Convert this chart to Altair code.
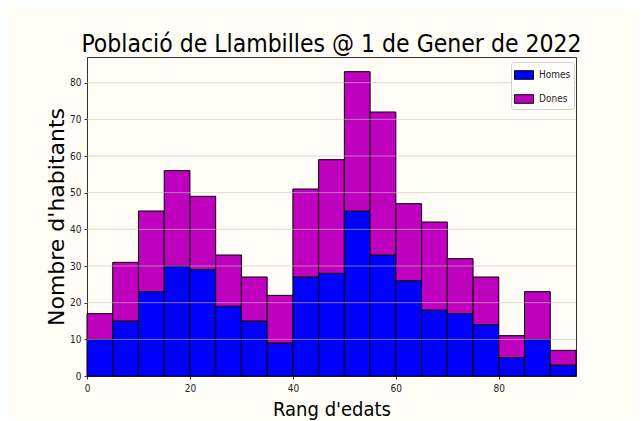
import altair as alt
import pandas as pd

# Age bins (start, end) and counts
bin_start = [0, 5, 10, 15, 20, 25, 30, 35, 40, 45, 50, 55, 60, 65, 70, 75, 80, 85, 90]
bin_end = [5, 10, 15, 20, 25, 30, 35, 40, 45, 50, 55, 60, 65, 70, 75, 80, 85, 90, 95]
homes = [10, 15, 23, 30, 29, 19, 15, 9, 27, 28, 45, 33, 26, 18, 17, 14, 5, 10, 3]
dones = [7, 16, 22, 26, 20, 14, 12, 13, 24, 31, 38, 39, 21, 24, 15, 13, 6, 13, 4]
series = ["Homes", "Dones"]
colors = ["#0000ff", "#bf00bf"]
x_ticks = [0, 20, 40, 60, 80]
y_ticks = [0, 10, 20, 30, 40, 50, 60, 70, 80]
grid_vals = [10, 20, 30, 40, 50, 60, 70, 80]

rows = []
for s, e, h, d in zip(bin_start, bin_end, homes, dones):
    rows.append({"start": s, "end": e, "sex": "Homes", "count": h, "ord": 0})
    rows.append({"start": s, "end": e, "sex": "Dones", "count": d, "ord": 1})
df = pd.DataFrame(rows)
grid_df = pd.DataFrame({"v": grid_vals})

W, H = 489, 319
NARROW = "DejaVu Sans Condensed, DejaVu Sans, sans-serif"
BG = "#fffdf6"

xscale = alt.Scale(domain=[0, 95], nice=False, zero=False)
yscale = alt.Scale(domain=[0, 87], nice=False, zero=True)

y_axis = alt.Axis(values=y_ticks, title="Nombre d'habitants", grid=False,
                  labelFont=NARROW, labelFontSize=10, labelColor="#222",
                  tickSize=3, tickColor="#333", domainColor="#333",
                  labelPadding=3, labelFlush=False, labelOverlap=False,
                  titleFont="DejaVu Sans", titleFontSize=22, titleFontWeight="normal",
                  titleColor="black", titleAngle=270, titleX=-31, titleY=H / 2,
                  titleBaseline="middle", titleAlign="center")

bars = alt.Chart(df).transform_stack(
    stack="count", groupby=["start"], as_=["y0", "y1"],
    sort=[alt.SortField("ord", order="ascending")]
).mark_rect(stroke="black", strokeWidth=1, opacity=1).encode(
    x=alt.X("start:Q", scale=xscale,
            axis=alt.Axis(values=x_ticks, title="Rang d'edats", grid=False,
                          labelFont=NARROW, labelFontSize=10, labelColor="#222",
                          tickSize=3, tickColor="#333", domainColor="#333",
                          labelPadding=4, labelFlush=False,
                          titleFont=NARROW, titleFontSize=20, titleFontWeight="normal",
                          titleColor="black", titleX=W / 2, titleY=39,
                          titleBaseline="alphabetic", titleAlign="center")),
    x2="end:Q",
    y=alt.Y("y0:Q", scale=yscale, axis=y_axis),
    y2="y1:Q",
    color=alt.Color("sex:N", scale=alt.Scale(domain=series, range=colors),
                    legend=alt.Legend(title=None, orient="none", legendX=424, legendY=5,
                                      labelFont=NARROW, labelFontSize=10, labelColor="#222",
                                      symbolType="M-1,-0.45L1,-0.45L1,0.45L-1,0.45Z",
                                      symbolSize=361, symbolStrokeColor="black",
                                      symbolStrokeWidth=1, symbolOpacity=1,
                                      labelOffset=5, rowPadding=7, padding=3,
                                      fillColor="#fffefb", strokeColor="#d0d0d0",
                                      cornerRadius=3)),
)

grid = alt.Chart(grid_df).mark_rule(color="#c8c4c0", strokeWidth=1, opacity=0.6).encode(
    y=alt.Y("v:Q", scale=yscale, axis=y_axis)
)

chart = alt.layer(bars, grid).properties(
    width=W, height=H,
    autosize=alt.AutoSizeParams(type="none"),
    padding={"left": 79, "top": 49, "right": 59, "bottom": 44},
    background=BG,
    title=alt.TitleParams("Població de Llambilles @ 1 de Gener de 2022", font=NARROW,
                          fontSize=24.5, fontWeight="normal", color="black",
                          anchor="middle", baseline="alphabetic", offset=-19),
).configure_view(stroke="#333", strokeWidth=1, fill=BG)

chart.save("out.html", embed_options={"renderer": "svg", "actions": False})
